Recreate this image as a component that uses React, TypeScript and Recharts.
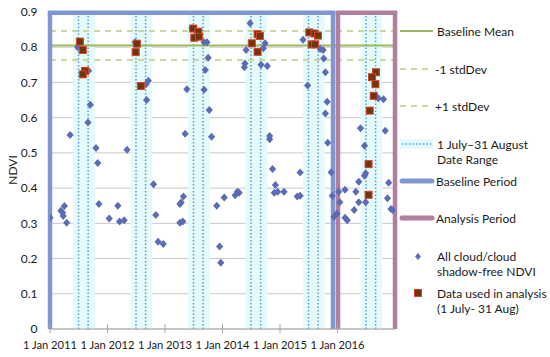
import React from 'react';
import {
  ComposedChart,
  Scatter,
  XAxis,
  YAxis,
  CartesianGrid,
  ReferenceLine,
  ReferenceArea,
  Legend,
} from 'recharts';

// ---- data ----
const yearTicks = [2011, 2012, 2013, 2014, 2015, 2016];
const ndviTicks = [0, 0.1, 0.2, 0.3, 0.4, 0.5, 0.6, 0.7, 0.8, 0.9];

// All cloud/cloud shadow-free NDVI observations (decimal year, NDVI)
const allDates = [
  2011.0, 2011.19, 2011.22, 2011.23, 2011.25, 2011.29, 2011.35, 2011.48, 2011.67, 2011.7,
  2011.66, 2011.8, 2011.83, 2011.85, 2012.03, 2012.18, 2012.21, 2012.29, 2012.34, 2012.48,
  2012.71, 2012.67, 2012.68, 2012.8, 2012.84, 2012.88, 2012.97, 2013.26, 2013.28, 2013.32,
  2013.26, 2013.31, 2013.35, 2013.38, 2013.47, 2013.68, 2013.73, 2013.75, 2013.7, 2013.68,
  2013.77, 2013.81, 2013.9, 2014.03, 2013.95, 2013.97, 2014.22, 2014.26, 2014.29, 2014.48,
  2014.41, 2014.39, 2014.38, 2014.67, 2014.78, 2014.74, 2014.71, 2014.82, 2014.82, 2014.87,
  2014.92, 2014.9, 2014.96, 2015.07, 2015.35, 2015.3, 2015.35, 2015.4, 2015.48, 2015.7,
  2015.75, 2015.76, 2015.79, 2015.82, 2015.79, 2015.83, 2015.89, 2015.91, 2015.94, 2015.99,
  2016.02, 2016.04, 2016.13, 2016.13, 2016.17, 2016.29, 2016.32, 2016.37, 2016.37, 2016.4,
  2016.47, 2016.47, 2016.49, 2016.49, 2016.71, 2016.8, 2016.83, 2016.89, 2016.87, 2016.93,
  2016.96,
];
const allNdvi = [
  0.316, 0.336, 0.33, 0.321, 0.349, 0.302, 0.551, 0.8, 0.733, 0.637,
  0.586, 0.514, 0.471, 0.355, 0.314, 0.35, 0.305, 0.309, 0.509, 0.814,
  0.705, 0.695, 0.65, 0.411, 0.324, 0.248, 0.241, 0.355, 0.359, 0.376,
  0.302, 0.305, 0.554, 0.681, 0.854, 0.814, 0.814, 0.77, 0.735, 0.679,
  0.622, 0.546, 0.35, 0.373, 0.234, 0.188, 0.38, 0.39, 0.387, 0.868,
  0.792, 0.754, 0.743, 0.75, 0.747, 0.811, 0.797, 0.548, 0.539, 0.454,
  0.409, 0.387, 0.39, 0.39, 0.444, 0.376, 0.378, 0.821, 0.691, 0.795,
  0.792, 0.768, 0.729, 0.645, 0.612, 0.529, 0.445, 0.378, 0.319, 0.328,
  0.39, 0.36, 0.395, 0.316, 0.309, 0.338, 0.39, 0.36, 0.418, 0.57,
  0.52, 0.435, 0.442, 0.36, 0.655, 0.652, 0.563, 0.415, 0.371, 0.341,
  0.338,
];

// Data used in analysis (1 July - 31 Aug)
const usedDates = [
  2011.52, 2011.57, 2011.61, 2011.57,
  2012.51, 2012.49, 2012.58,
  2013.49, 2013.58, 2013.51, 2013.59,
  2014.61, 2014.65, 2014.51, 2014.61,
  2015.51, 2015.6, 2015.66, 2015.55, 2015.61,
  2016.67, 2016.6, 2016.66, 2016.63, 2016.56, 2016.54, 2016.54,
];
const usedNdvi = [
  0.816, 0.792, 0.733, 0.723,
  0.81, 0.786, 0.69,
  0.853, 0.844, 0.827, 0.83,
  0.837, 0.832, 0.811, 0.787,
  0.842, 0.839, 0.833, 0.808, 0.808,
  0.729, 0.715, 0.695, 0.662, 0.62, 0.468, 0.381,
];

const baselineMean = 0.805;
const stdDev = 0.041;
const baselinePeriod = [2011, 2015.922];
const analysisPeriod = [2016.009, 2017];
const julyFirst = 0.496; // fraction of year
const augustLast = 0.663;
const xDomain = [2011, 2017];
const periodTop = 0.898;

// ---- styles ----
const FONT = 'Lato, "Open Sans", sans-serif';
const C_DIAMOND = '#5B6BB5';
const C_SQ_FILL = '#6F360C';
const C_SQ_STROKE = '#D5432C';
const C_MEAN = '#9BBB59';
const C_STD = '#C8DAA0';
const C_DOT = '#5B9BD5';
const C_BAND = '#E5FBFB';
const C_BASE = '#7F96D2';
const C_ANALYSIS = '#B07F9E';

const allData = allDates.map((x, i) => ({ x, y: allNdvi[i] }));
const usedData = usedDates.map((x, i) => ({ x, y: usedNdvi[i] }));

const Diamond = (props: any) => {
  const { cx, cy } = props;
  if (cx == null || cy == null) return null;
  return (
    <polygon
      points={`${cx},${cy - 4} ${cx + 3.6},${cy} ${cx},${cy + 4} ${cx - 3.6},${cy}`}
      fill={C_DIAMOND}
    />
  );
};

const Square = (props: any) => {
  const { cx, cy } = props;
  if (cx == null || cy == null) return null;
  return (
    <rect x={cx - 3.5} y={cy - 3.5} width={7} height={7} fill={C_SQ_FILL} stroke={C_SQ_STROKE} strokeWidth={1} />
  );
};

const XTick = (props: any) => {
  const { x, y, payload } = props;
  return (
    <g>
      <line x1={x} x2={x} y1={y - 5} y2={y + 4} stroke="#A6A6A6" strokeWidth={1} />
      <text x={x} y={y + 20} textAnchor="middle" fontSize={11.2} fontFamily={FONT} fill="#1a1a1a">
        {`1 Jan ${payload.value}`}
      </text>
    </g>
  );
};

const LegendText = ({ x, y, children }: any) => (
  <text x={x} y={y} dominantBaseline="central" fontSize={12} fontFamily={FONT} fill="#1a1a1a">
    {children}
  </text>
);

const CustomLegend = () => (
  <svg width={550} height={357} style={{ position: 'absolute', left: 0, top: 0, pointerEvents: 'none' }}>
    <line x1={400} x2={433} y1={31} y2={31} stroke={C_MEAN} strokeWidth={2} />
    <LegendText x={437} y={31}>Baseline Mean</LegendText>

    <line x1={400} x2={433} y1={69} y2={69} stroke={C_STD} strokeWidth={2} strokeDasharray="6 5" />
    <LegendText x={435} y={69}>-1 stdDev</LegendText>

    <line x1={400} x2={433} y1={106} y2={106} stroke={C_STD} strokeWidth={2} strokeDasharray="6 5" />
    <LegendText x={435} y={106}>+1 stdDev</LegendText>

    <rect x={400} y={139} width={33} height={10} fill={C_BAND} />
    <line x1={402} x2={433} y1={144} y2={144} stroke={C_DOT} strokeWidth={1.5} strokeDasharray="1.5 2" />
    <LegendText x={437} y={144}>1 July–31 August</LegendText>
    <LegendText x={437} y={159}>Date Range</LegendText>

    <line x1={402} x2={432} y1={181} y2={181} stroke={C_BASE} strokeWidth={5} strokeLinecap="round" />
    <LegendText x={436} y={181}>Baseline Period</LegendText>

    <line x1={402} x2={432} y1={218} y2={218} stroke={C_ANALYSIS} strokeWidth={5} strokeLinecap="round" />
    <LegendText x={436} y={218}>Analysis Period</LegendText>

    <polygon points="418,253 421,256.5 418,260 415,256.5" fill={C_DIAMOND} />
    <LegendText x={437} y={256}>All cloud/cloud</LegendText>
    <LegendText x={437} y={271}>shadow-free NDVI</LegendText>

    <rect x={414.5} y={289.5} width={7} height={7} fill={C_SQ_FILL} stroke={C_SQ_STROKE} strokeWidth={1} />
    <LegendText x={437} y={293}>Data used in analysis</LegendText>
    <LegendText x={437} y={308}>(1 July- 31 Aug)</LegendText>
  </svg>
);

export default function App() {
  return (
    <div style={{ position: 'absolute', left: 0, top: 0, width: 550, height: 357, background: '#fff' }}>
      <ComposedChart width={550} height={357} margin={{ top: 12, right: 155, bottom: 0, left: 0 }}>
        {yearTicks.map((yr) => (
          <ReferenceArea
            key={`band-${yr}`}
            x1={yr + 0.4}
            x2={yr + 0.78}
            y1={0}
            y2={periodTop}
            fill={C_BAND}
            fillOpacity={1}
            stroke="none"
          />
        ))}
        <CartesianGrid vertical={false} stroke="#C8C8C8" strokeWidth={1} />
        <XAxis
          type="number"
          dataKey="x"
          domain={xDomain}
          ticks={yearTicks}
          interval={0}
          allowDataOverflow
          height={28}
          tickSize={0}
          tickMargin={0}
          tickLine={false}
          axisLine={{ stroke: '#A6A6A6' }}
          tick={<XTick />}
        />
        <YAxis
          type="number"
          dataKey="y"
          domain={[0, 0.9]}
          ticks={ndviTicks}
          interval={0}
          allowDataOverflow
          width={50}
          tickLine={false}
          axisLine={false}
          tickSize={6}
          tickMargin={6.5}
          tickFormatter={(v: number) => (v === 0 ? '0' : v.toFixed(1))}
          tick={{ fontSize: 12, fontFamily: FONT, fill: '#1a1a1a' }}
          label={{
            content: () => (
              <text
                x={12}
                y={170}
                transform="rotate(-90 12 170)"
                textAnchor="middle"
                dominantBaseline="central"
                fontSize={12}
                fontFamily={FONT}
                fill="#1a1a1a"
              >
                NDVI
              </text>
            ),
          }}
        />
        {yearTicks.map((yr) => (
          <ReferenceLine
            key={`jul-${yr}`}
            segment={[{ x: yr + julyFirst, y: 0 }, { x: yr + julyFirst, y: periodTop }]}
            stroke={C_DOT}
            strokeWidth={1.5}
            strokeDasharray="1.5 2"
          />
        ))}
        {yearTicks.map((yr) => (
          <ReferenceLine
            key={`aug-${yr}`}
            segment={[{ x: yr + augustLast, y: 0 }, { x: yr + augustLast, y: periodTop }]}
            stroke={C_DOT}
            strokeWidth={1.5}
            strokeDasharray="1.5 2"
          />
        ))}
        <ReferenceLine y={baselineMean + stdDev} stroke={C_STD} strokeWidth={2} strokeDasharray="6 5" />
        <ReferenceLine y={baselineMean - stdDev} stroke={C_STD} strokeWidth={2} strokeDasharray="6 5" />
        <ReferenceLine y={baselineMean} stroke={C_MEAN} strokeWidth={2} />

        <ReferenceLine segment={[{ x: baselinePeriod[0], y: 0 }, { x: baselinePeriod[0], y: periodTop }]} stroke={C_BASE} strokeWidth={4.5} />
        <ReferenceLine segment={[{ x: baselinePeriod[1], y: 0 }, { x: baselinePeriod[1], y: periodTop }]} stroke={C_BASE} strokeWidth={4.5} />
        <ReferenceLine segment={[{ x: baselinePeriod[0], y: periodTop }, { x: baselinePeriod[1], y: periodTop }]} stroke={C_BASE} strokeWidth={4.5} strokeLinecap="square" />

        <ReferenceLine segment={[{ x: analysisPeriod[0], y: 0 }, { x: analysisPeriod[0], y: periodTop }]} stroke={C_ANALYSIS} strokeWidth={4.5} />
        <ReferenceLine segment={[{ x: analysisPeriod[1], y: 0 }, { x: analysisPeriod[1], y: periodTop }]} stroke={C_ANALYSIS} strokeWidth={4.5} />
        <ReferenceLine segment={[{ x: analysisPeriod[0], y: periodTop }, { x: analysisPeriod[1], y: periodTop }]} stroke={C_ANALYSIS} strokeWidth={4.5} strokeLinecap="square" />

        <Scatter name="All cloud/cloud shadow-free NDVI" data={allData} dataKey="y" shape={<Diamond />} isAnimationActive={false} />
        <Scatter name="Data used in analysis (1 July- 31 Aug)" data={usedData} dataKey="y" shape={<Square />} isAnimationActive={false} />

        <Legend
          layout="vertical"
          align="center"
          verticalAlign="middle"
          width={550}
          height={357}
          wrapperStyle={{ left: 0, top: 0, width: 550, height: 357, pointerEvents: 'none' }}
          content={() => <CustomLegend />}
        />
      </ComposedChart>
    </div>
  );
}
